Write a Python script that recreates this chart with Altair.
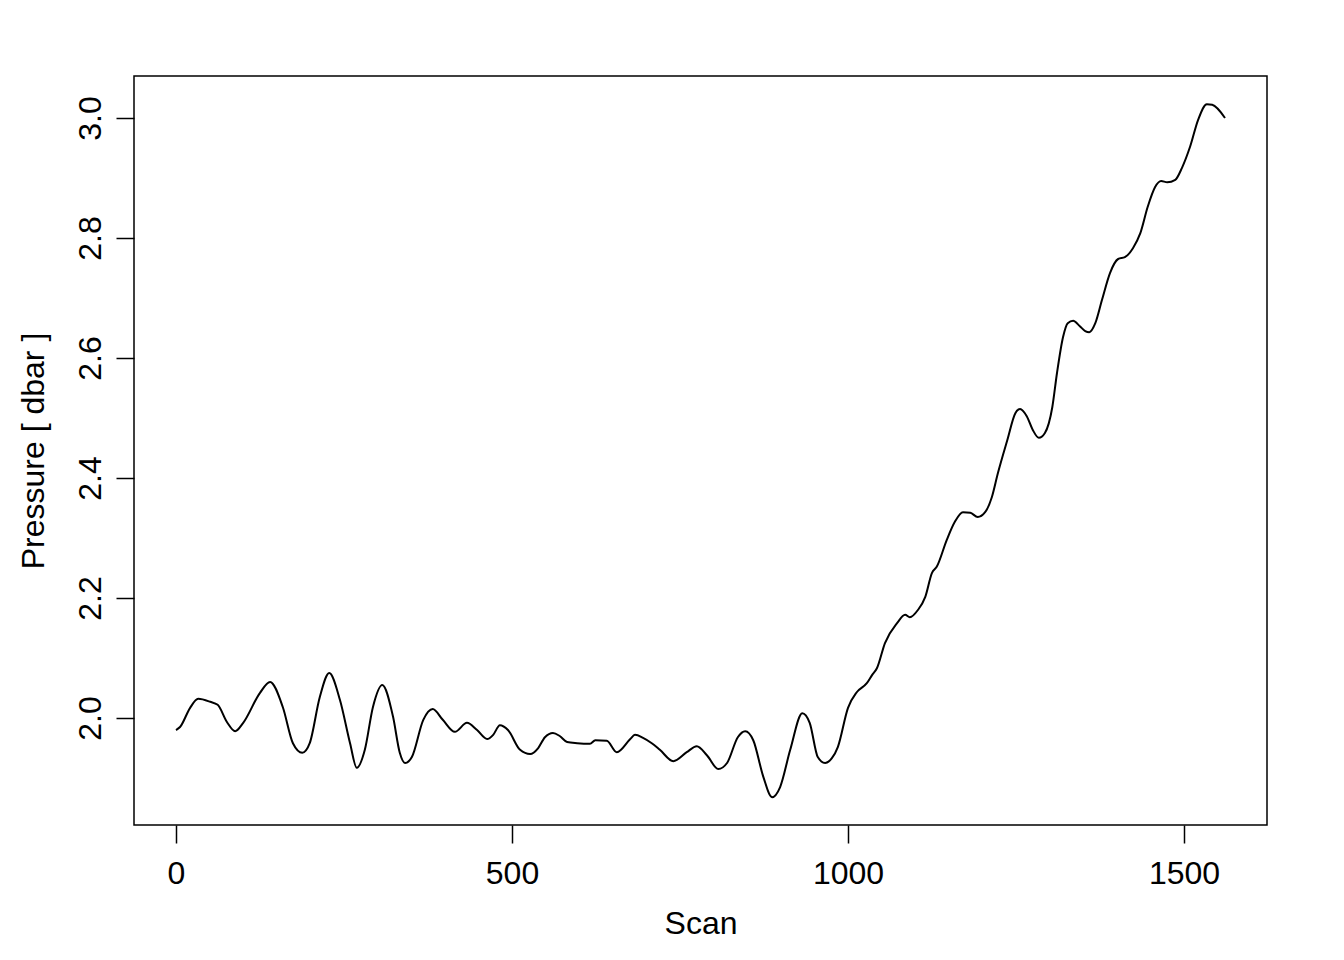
import altair as alt
import pandas as pd

scan = [0, 6, 21, 33, 51, 62, 76, 88, 100, 125, 140, 159, 174, 188, 199, 214, 228, 244,
        259, 269, 281, 293, 307, 323, 333, 341, 351, 368, 382, 397, 415, 433, 448, 463,
        472, 482, 494, 512, 527, 539, 549, 561, 571, 582, 597, 616, 624, 641, 656, 676,
        683, 695, 708, 720, 740, 760, 775, 790, 807, 820, 836, 847, 859, 874, 887, 899,
        914, 932, 943, 955, 966, 976, 985, 1000, 1013, 1028, 1036, 1043, 1055, 1073, 1085,
        1092, 1104, 1115, 1125, 1132, 1147, 1159, 1171, 1182, 1193, 1204, 1214, 1223, 1237,
        1249, 1256, 1266, 1275, 1284, 1293, 1304, 1311, 1320, 1327, 1335, 1345, 1353, 1359,
        1368, 1378, 1390, 1402, 1412, 1424, 1435, 1446, 1457, 1466, 1475, 1487, 1497, 1509,
        1521, 1534, 1542, 1561]

pressure = [1.980, 1.985, 2.017, 2.032, 2.027, 2.022, 1.993, 1.978, 1.992, 2.042, 2.060,
            2.018, 1.958, 1.942, 1.958, 2.035, 2.075, 2.030, 1.958, 1.917, 1.947, 2.018,
            2.055, 2.002, 1.942, 1.925, 1.935, 1.997, 2.015, 1.997, 1.977, 1.992, 1.980,
            1.965, 1.972, 1.988, 1.980, 1.947, 1.940, 1.950, 1.968, 1.975, 1.970, 1.960,
            1.958, 1.957, 1.963, 1.962, 1.943, 1.965, 1.972, 1.967, 1.958, 1.947, 1.928,
            1.943, 1.953, 1.938, 1.915, 1.925, 1.968, 1.978, 1.963, 1.902, 1.868, 1.885,
            1.947, 2.008, 1.992, 1.935, 1.925, 1.933, 1.952, 2.017, 2.043, 2.058, 2.072,
            2.083, 2.125, 2.158, 2.172, 2.168, 2.180, 2.202, 2.242, 2.252, 2.297, 2.327,
            2.343, 2.342, 2.335, 2.343, 2.368, 2.408, 2.463, 2.508, 2.515, 2.503, 2.480,
            2.467, 2.475, 2.518, 2.575, 2.635, 2.658, 2.662, 2.653, 2.645, 2.643, 2.658,
            2.697, 2.742, 2.765, 2.768, 2.783, 2.808, 2.852, 2.885, 2.895, 2.893, 2.897,
            2.917, 2.952, 2.997, 3.023, 3.022, 3.000]

x_ticks = [0, 500, 1000, 1500]
y_ticks = [2.0, 2.2, 2.4, 2.6, 2.8, 3.0]

df = pd.DataFrame({"Scan": scan, "Pressure": pressure})

FONT = "Liberation Sans"

chart = alt.Chart(df).mark_line(
    color="black", strokeWidth=2, interpolate="monotone"
).encode(
    x=alt.X(
        "Scan:Q",
        scale=alt.Scale(domain=[-62.5, 1623.5], nice=False, zero=False),
        axis=alt.Axis(
            values=x_ticks, title="Scan", grid=False, domain=False, format="d",
            tickSize=18, tickColor="black", tickWidth=1.5,
            labelFont=FONT, labelFontSize=32, labelColor="black",
            labelPadding=15, labelBaseline="top", labelFlush=False,
            titleFont=FONT, titleFontSize=32, titleFontWeight="normal",
            titleColor="black", titleBaseline="alphabetic", titleY=108,
        ),
    ),
    y=alt.Y(
        "Pressure:Q",
        scale=alt.Scale(domain=[1.8217, 3.07], nice=False, zero=False),
        axis=alt.Axis(
            values=y_ticks, title="Pressure [ dbar ]", grid=False, domain=False,
            format=".1f",
            tickSize=18, tickColor="black", tickWidth=1.5,
            labelFont=FONT, labelFontSize=32, labelColor="black",
            labelAngle=270, labelAlign="center", labelBaseline="alphabetic",
            labelPadding=16, labelFlush=False,
            titleFont=FONT, titleFontSize=32, titleFontWeight="normal",
            titleColor="black", titleAngle=270, titleAlign="center",
            titleBaseline="alphabetic", titleX=-91, titleY=374.5,
        ),
    ),
).properties(
    width=1133,
    height=749,
    padding={"left": 126, "top": 68, "right": 40, "bottom": 120},
    autosize=alt.AutoSizeParams(type="none"),
    background="white",
).configure_view(
    stroke="black", strokeWidth=1.5
)

chart.save("out.html", embed_options={"renderer": "svg", "actions": False})
